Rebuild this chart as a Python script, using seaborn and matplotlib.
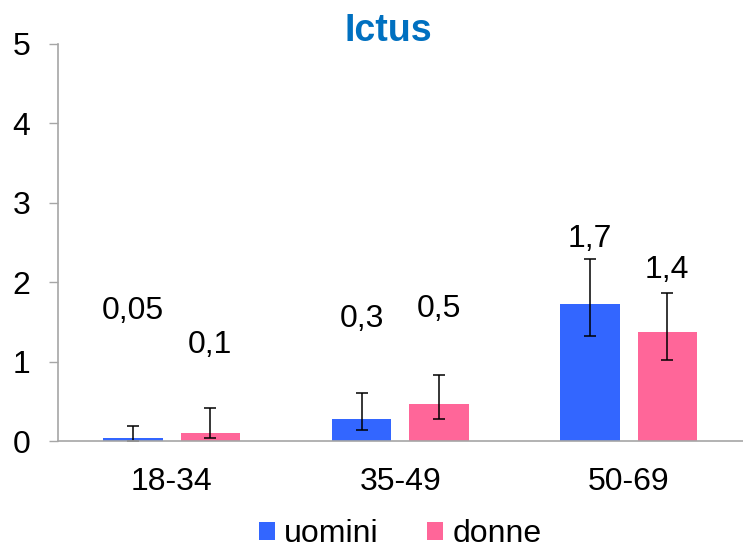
import pandas as pd
import matplotlib.pyplot as plt
import seaborn as sns

# values
categories = ["18-34", "35-49", "50-69"]
groups = ["uomini", "donne"]
uomini = [0.04, 0.28, 1.73]
donne = [0.11, 0.47, 1.37]
uomini_low = [0.01, 0.14, 1.32]
uomini_high = [0.19, 0.61, 2.29]
donne_low = [0.04, 0.28, 1.02]
donne_high = [0.42, 0.84, 1.86]
uomini_text = ["0,05", "0,3", "1,7"]
donne_text = ["0,1", "0,5", "1,4"]
# the labels in the original sit at hand-placed heights
uomini_text_y = [1.64, 1.54, 2.54]
donne_text_y = [1.215, 1.66, 2.15]

colors = {"uomini": "#3366FF", "donne": "#FF6699"}
axis_gray = "#A6A6A6"

df = pd.DataFrame({
    "eta": categories * 2,
    "valore": uomini + donne,
    "sesso": ["uomini"] * 3 + ["donne"] * 3,
})

sns.set_style("white")
plt.rcParams["font.family"] = ["Liberation Sans", "DejaVu Sans"]
plt.rcParams["text.color"] = "black"

fig = plt.figure(figsize=(7.43, 5.54), dpi=100)
ax = fig.add_axes([57.5 / 743, 0.2034, 1 - 57.5 / 743, 0.9211 - 0.2034])

sns.barplot(data=df, x="eta", y="valore", hue="sesso", hue_order=groups,
            palette=colors, saturation=1, width=0.675, gap=0.23,
            errorbar=None, linewidth=0, ax=ax)

series = {
    "uomini": (uomini, uomini_low, uomini_high, uomini_text, uomini_text_y),
    "donne": (donne, donne_low, donne_high, donne_text, donne_text_y),
}
for container, name in zip(ax.containers, groups):
    vals, low, high, texts, text_y = series[name]
    xs = [b.get_x() + b.get_width() / 2 for b in container]
    yerr = [[v - lo for v, lo in zip(vals, low)], [hi - v for v, hi in zip(vals, high)]]
    ax.errorbar(xs, vals, yerr=yerr, fmt="none", ecolor="black",
                elinewidth=1.1, capsize=4, capthick=1.1)
    for x, t, ty in zip(xs, texts, text_y):
        ax.text(x, ty, t, ha="center", va="center", fontsize=23, color="black")

ax.set_xlim(-0.5, 2.5)
ax.set_ylim(0, 5)
ax.set_yticks([0, 1, 2, 3, 4, 5])
ax.set_xlabel("")
ax.set_ylabel("")
ax.tick_params(axis="y", direction="out", length=6.5, width=1, color=axis_gray,
               labelsize=23, labelcolor="black", pad=13, left=True)
ax.tick_params(axis="x", length=0, labelsize=23, labelcolor="black", pad=18.5)

for side in ["top", "right"]:
    ax.spines[side].set_visible(False)
for side in ["left", "bottom"]:
    ax.spines[side].set_color(axis_gray)
    ax.spines[side].set_linewidth(1.2)

handles, labels = ax.get_legend_handles_labels()
if ax.legend_ is not None:
    ax.legend_.remove()
fig.legend(handles, labels, loc="lower center", bbox_to_anchor=(400 / 743, 0.0),
           ncol=2, frameon=False, fontsize=23, handlelength=0.5,
           handleheight=0.5, handletextpad=0.3, columnspacing=1.5,
           labelcolor="black", borderpad=0.05, borderaxespad=0.1)

fig.text(388 / 743, (554 - 40.7) / 554, "Ictus", ha="center", va="baseline",
         fontsize=27, fontweight="bold", color="#0070C0")

fig.savefig("out.png", dpi=100)
